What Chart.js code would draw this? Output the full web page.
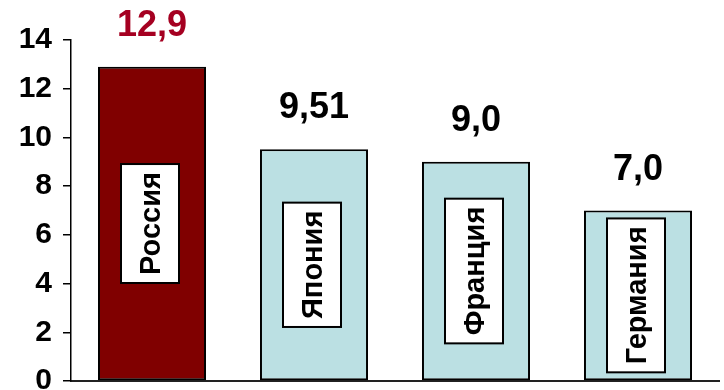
<!DOCTYPE html>
<html>
<head>
<meta charset="utf-8">
<script src="https://cdn.jsdelivr.net/npm/chart.js@4/dist/chart.umd.min.js"></script>
<style>
  html, body { margin: 0; padding: 0; background: #fff; }
  #wrap { width: 724px; height: 390px; position: relative; }
</style>
</head>
<body>
<div id="wrap"><canvas id="chart"></canvas></div>
<script>
// Countries and their values
const categories = ['Россия', 'Япония', 'Франция', 'Германия'];
const values = [12.9, 9.51, 9.0, 7.0];

// Axis range
const yMin = 0;
const yMax = 14;
const yStep = 2;

const FONT = '"Liberation Sans", Arial, sans-serif';
const barFill = ['#800000', '#BBE0E3', '#BBE0E3', '#BBE0E3'];
const valueColor = ['#A50021', '#000000', '#000000', '#000000'];

// Russian decimal format: 12,9 / 9,51 / 9,0
function fmt(v) {
  const s = Number.isInteger(Math.round(v * 100) / 10) ? v.toFixed(1) : v.toFixed(2);
  return s.replace('.', ',');
}

// Value above each bar plus a boxed, vertical country name inside it
const barLabels = {
  id: 'barLabels',
  afterDatasetsDraw(chart) {
    const ctx = chart.ctx;
    const meta = chart.getDatasetMeta(0);
    meta.data.forEach((bar, i) => {
      // value
      ctx.save();
      ctx.font = 'bold 36px ' + FONT;
      ctx.fillStyle = valueColor[i];
      ctx.textAlign = 'center';
      ctx.textBaseline = 'alphabetic';
      ctx.fillText(fmt(values[i]), bar.x, bar.y - 31);
      ctx.restore();

      // country name box
      const fs = 29;
      ctx.save();
      ctx.font = 'bold ' + fs + 'px ' + FONT;
      const tw = ctx.measureText(categories[i]).width;
      const boxH = tw + 16;
      const boxW = 58;
      const cx = bar.x - 2;
      const cy = (bar.y + bar.base) / 2;
      ctx.fillStyle = '#ffffff';
      ctx.strokeStyle = '#000000';
      ctx.lineWidth = 2;
      ctx.fillRect(cx - boxW / 2, cy - boxH / 2, boxW, boxH);
      ctx.strokeRect(cx - boxW / 2, cy - boxH / 2, boxW, boxH);
      ctx.translate(cx, cy);
      ctx.rotate(-Math.PI / 2);
      ctx.fillStyle = '#000000';
      ctx.textAlign = 'center';
      ctx.textBaseline = 'alphabetic';
      ctx.fillText(categories[i], 0, fs * 0.36);
      ctx.restore();
    });
  }
};

new Chart(document.getElementById('chart'), {
  type: 'bar',
  data: {
    labels: categories,
    datasets: [{
      data: values,
      backgroundColor: barFill,
      borderColor: '#000000',
      borderWidth: 2,
      borderSkipped: false,
      categoryPercentage: 1.0,
      barPercentage: 0.667
    }]
  },
  options: {
    responsive: true,
    maintainAspectRatio: false,
    animation: false,
    devicePixelRatio: 1,
    layout: { padding: { top: 40, right: 5, bottom: 9, left: 0 } },
    plugins: {
      legend: { display: false },
      tooltip: { enabled: false }
    },
    scales: {
      x: {
        grid: { display: false },
        ticks: { display: false },
        border: { display: true, color: '#222222', width: 2 },
        afterFit(s) { s.height = 0; }
      },
      y: {
        min: yMin,
        max: yMax,
        ticks: {
          stepSize: yStep,
          color: '#000000',
          padding: 11,
          font: { family: FONT, size: 30, weight: 'bold' }
        },
        grid: {
          display: true,
          drawOnChartArea: false,
          drawTicks: true,
          tickLength: 8,
          color: '#000000',
          lineWidth: 1.5
        },
        border: { display: true, color: '#000000', width: 1.5 },
        afterFit(s) {
          s.width = 71;
          s.paddingTop = 0;
          s.paddingBottom = 0;
        }
      }
    }
  },
  plugins: [barLabels]
});
</script>
</body>
</html>
